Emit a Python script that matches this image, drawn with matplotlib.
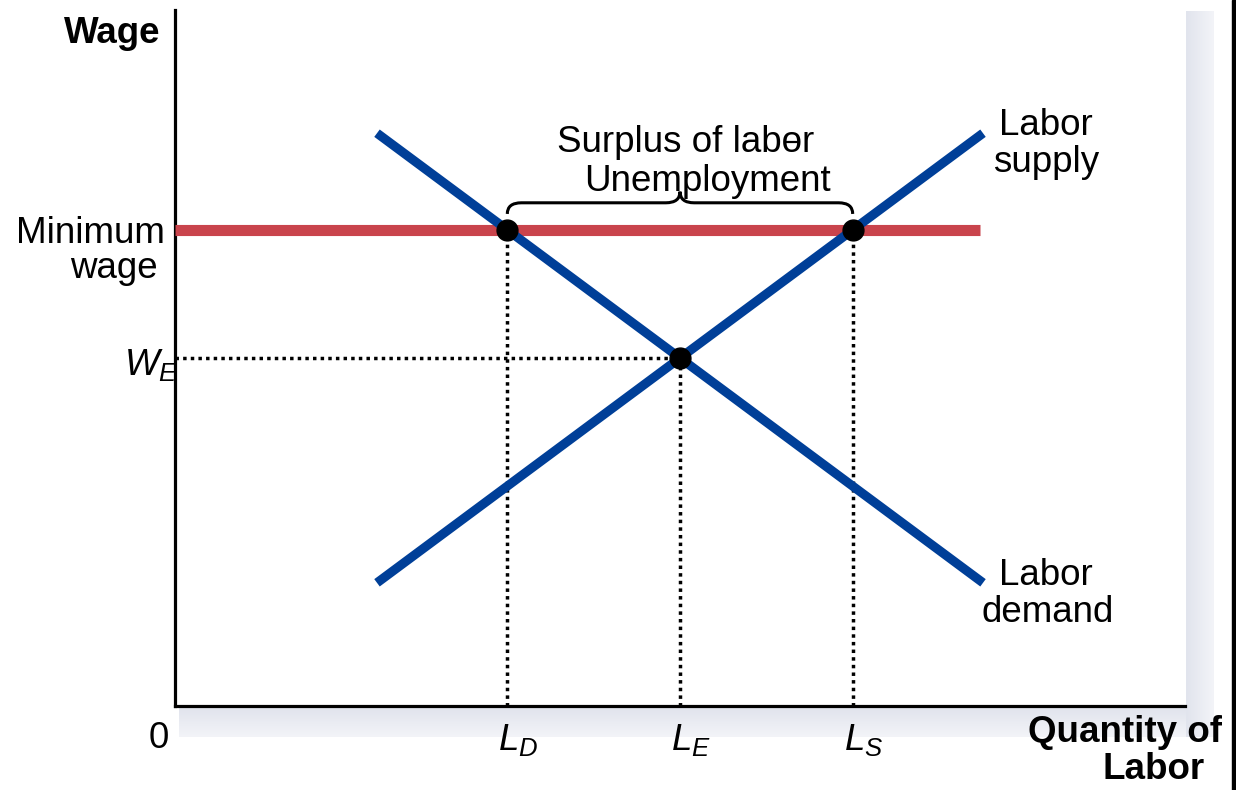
import matplotlib
matplotlib.use("Agg")
import matplotlib.pyplot as plt
import numpy as np
from matplotlib.path import Path
from matplotlib.patches import PathPatch, Rectangle

plt.rcParams['font.family'] = ['Liberation Sans', 'DejaVu Sans']
plt.rcParams['mathtext.fontset'] = 'custom'
plt.rcParams['mathtext.it'] = 'Liberation Sans:italic'
plt.rcParams['mathtext.rm'] = 'Liberation Sans'

# ---- data (axis units 0..100) ----
supply_x = [20, 80]
supply_y = [17.7, 82.3]
demand_x = [20, 80]
demand_y = [82.3, 17.7]
min_wage = 68.4
min_wage_x = [0, 79.7]
W_E = 50
L_D, L_E, L_S = 32.9, 50, 67.1
x_labels = ["$L_D$", "$L_E$", "$L_S$"]

BLUE = '#003F98'
RED = '#C9444C'
FS = 26.5

W, H = 1236, 790
fig = plt.figure(figsize=(W / 100, H / 100), dpi=100)

# background / annotation layer in pixel coordinates
bg = fig.add_axes([0, 0, 1, 1])
bg.axis('off')
bg.set_zorder(0)

def grad(x0, x1, y0, y1, c1, c2, horizontal):
    c1 = np.array(matplotlib.colors.to_rgb(c1))
    c2 = np.array(matplotlib.colors.to_rgb(c2))
    t = np.linspace(0, 1, 64)
    cols = c1[None, :] * (1 - t[:, None]) + c2[None, :] * t[:, None]
    if horizontal:
        img = cols[None, :, :]
    else:
        img = cols[:, None, :]
    bg.imshow(img, extent=(x0, x1, y1, y0), origin='upper', aspect='auto',
              interpolation='bilinear', zorder=0)

grad(179, 1214, 708, 737, '#E1E4ED', '#F3F4F8', horizontal=False)
grad(1186, 1214, 11, 737, '#E1E4ED', '#F3F4F8', horizontal=True)
bg.add_patch(Rectangle((1232, 0), 4, 790, color='black', zorder=1))
bg.set_xlim(0, W)
bg.set_ylim(H, 0)

# texts (pixel positions)
bg.text(160, 43, "Wage", fontsize=FS, fontweight='bold', ha='right', va='baseline')
bg.text(165, 243, "Minimum", fontsize=FS, ha='right', va='baseline')
bg.text(158, 278, "wage", fontsize=FS, ha='right', va='baseline')
bg.text(178, 375, "$W_E$", fontsize=FS, ha='right', va='baseline')
bg.text(159, 748, "0", fontsize=FS, ha='center', va='baseline')
bg.text(1222, 742, "Quantity of", fontsize=FS, fontweight='bold', ha='right', va='baseline')
bg.text(1205, 779, "Labor", fontsize=FS, fontweight='bold', ha='right', va='baseline')
bg.text(1046, 135, "Labor", fontsize=FS, ha='center', va='baseline')
bg.text(1046, 172, "supply", fontsize=FS, ha='center', va='baseline')
bg.text(1046, 585, "Labor", fontsize=FS, ha='center', va='baseline')
bg.text(1048, 622, "demand", fontsize=FS, ha='center', va='baseline')
bg.text(557, 152, "Surplus of labor", fontsize=FS, ha='left', va='baseline')
bg.text(584, 191, "Unemployment", fontsize=FS, ha='left', va='baseline')
bg.plot([787, 797], [142, 142], color='black', lw=1.6, zorder=2)

# main axes
ax = fig.add_axes([175 / W, (H - 706) / H, 1010 / W, 696 / H])
ax.set_zorder(1)
ax.patch.set_visible(False)
ax.set_xlim(0, 100)
ax.set_ylim(0, 100)
for s in ['top', 'right']:
    ax.spines[s].set_visible(False)
for s in ['left', 'bottom']:
    ax.spines[s].set_linewidth(2.3)
    ax.spines[s].set_color('black')
ax.set_xticks([])
ax.set_yticks([])

dot = dict(color='black', lw=2.5, linestyle=(0, (1, 1.2)), dash_capstyle='butt', zorder=2)
ax.plot([L_D, L_D], [0, min_wage], **dot)
ax.plot([L_S, L_S], [0, min_wage], **dot)
ax.plot([L_E, L_E], [0, W_E], **dot)
ax.plot([0, L_E], [W_E, W_E], **dot)

ax.plot(min_wage_x, [min_wage, min_wage], color=RED, lw=8, solid_capstyle='butt', zorder=3)
ax.plot(supply_x, supply_y, color=BLUE, lw=6.6, solid_capstyle='butt', zorder=4)
ax.plot(demand_x, demand_y, color=BLUE, lw=6.6, solid_capstyle='butt', zorder=4)

ax.plot([L_D, L_S, L_E], [min_wage, min_wage, W_E], 'o', color='black', ms=15, zorder=5)

# curly brace above the surplus
yb = min_wage
xm = (L_D + L_S) / 2
verts = [(L_D, yb + 2.3), (L_D, yb + 3.9), (L_D + 1.4, yb + 3.9),
         (xm - 1.4, yb + 3.9),
         (xm, yb + 3.9), (xm, yb + 5.5),
         (xm, yb + 3.9), (xm + 1.4, yb + 3.9),
         (L_S - 1.4, yb + 3.9),
         (L_S, yb + 3.9), (L_S, yb + 2.3)]
codes = [Path.MOVETO, Path.CURVE3, Path.CURVE3, Path.LINETO,
         Path.CURVE3, Path.CURVE3, Path.CURVE3, Path.CURVE3,
         Path.LINETO, Path.CURVE3, Path.CURVE3]
ax.add_patch(PathPatch(Path(verts, codes), fill=False, lw=2.2, color='black',
                       zorder=3, clip_on=False))

# x labels at the tick positions
for xv, lab in zip([L_D, L_E, L_S], x_labels):
    ax.annotate(lab, xy=(xv, 0), xycoords='data', xytext=(-9 * 0.72, -44 * 0.72),
                textcoords='offset points', fontsize=FS, ha='left', va='baseline',
                annotation_clip=False)

fig.savefig("out.png", dpi=100)
